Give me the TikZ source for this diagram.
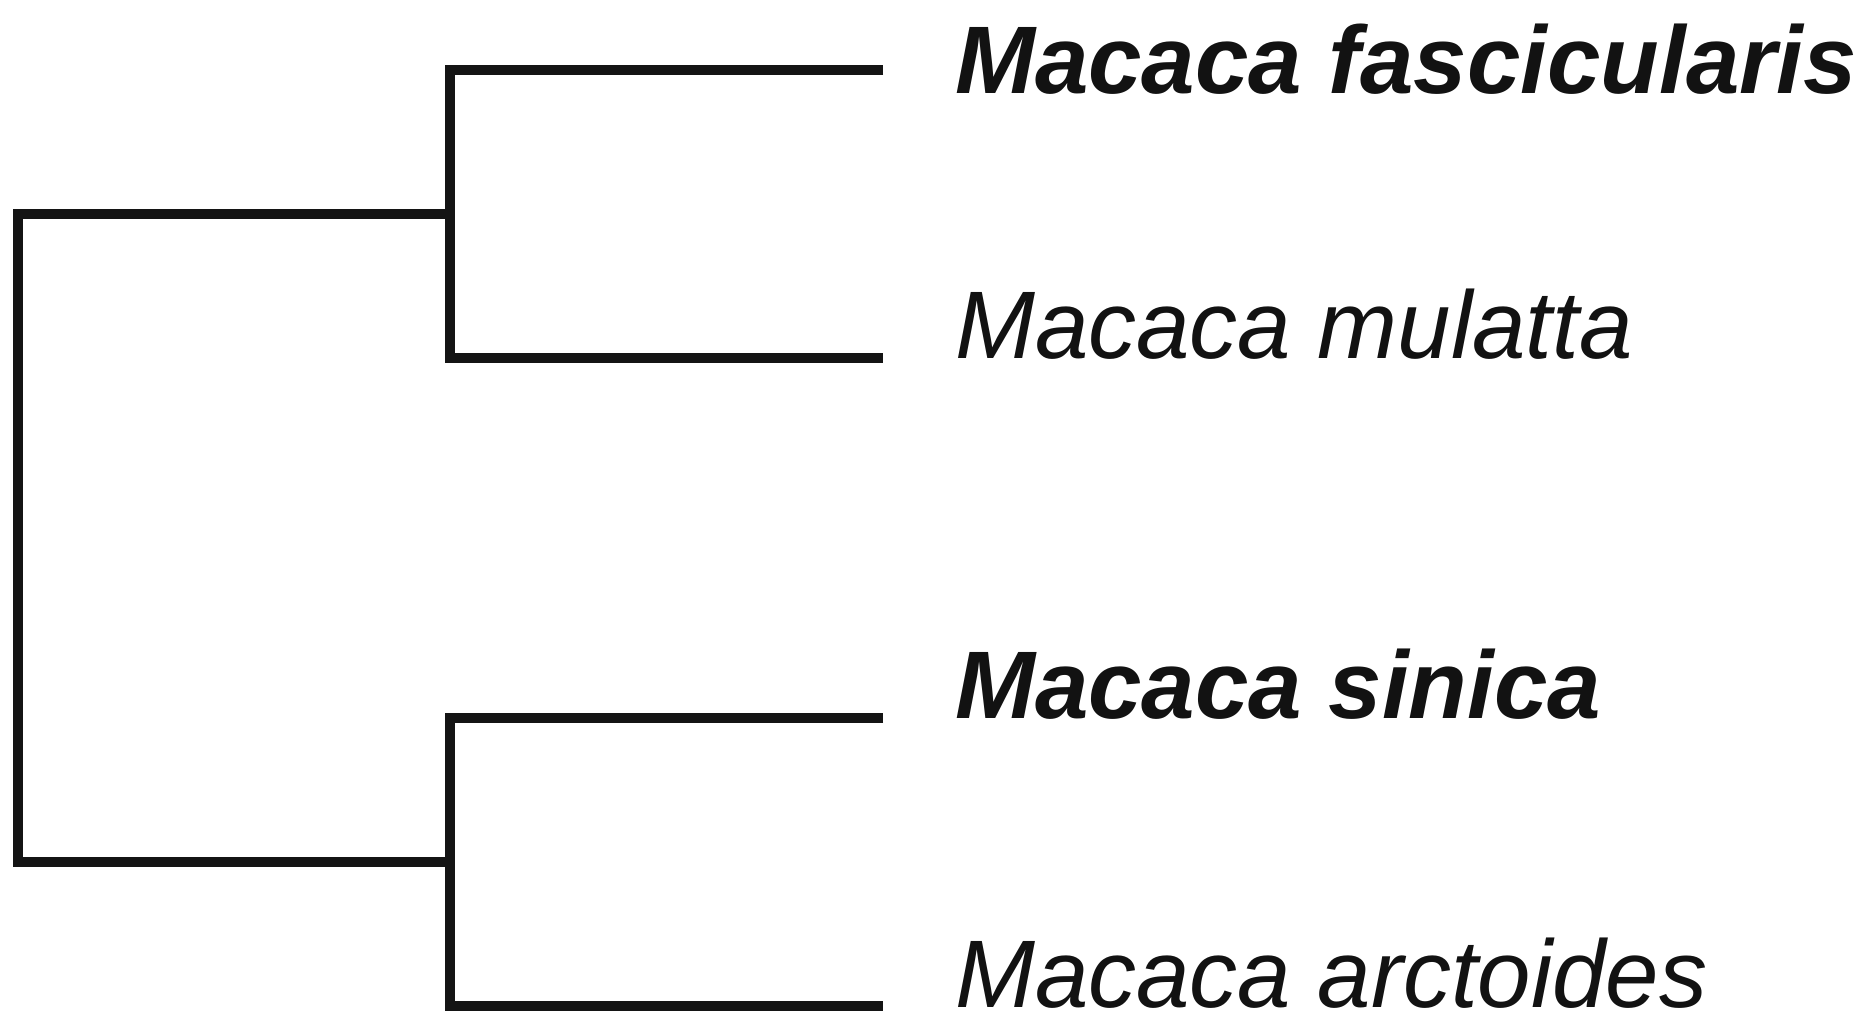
\documentclass[tikz,border=0pt]{standalone}
\usepackage{fontspec}
\setmainfont{Liberation Sans}
\begin{document}
\begin{tikzpicture}[x=1pt,y=-1pt,
    branch/.style={draw=black!92, line width=10pt, line join=miter, line cap=butt},
    taxon/.style={anchor=base west, inner sep=0pt, text=black!93,
                  font=\fontsize{96}{110}\selectfont\itshape},
    hilite/.style={taxon, font=\fontsize{96}{110}\selectfont\bfseries\itshape}]
\useasboundingbox (0,0) rectangle (1866,1011);

% internal nodes of the tree
\coordinate (root) at (18,538);
\coordinate (cladeA) at (450,214);
\coordinate (cladeB) at (450,862);

% leaf ends
\coordinate (tipFas) at (883,70);
\coordinate (tipMul) at (883,358);
\coordinate (tipSin) at (883,718);
\coordinate (tipArc) at (883,1006);

% species labels
\node[hilite] (fas) at (955,94) {Macaca fascicularis};
\node[taxon]  (mul) at (955,358) {Macaca mulatta};
\node[hilite] (sin) at (955,718) {Macaca sinica};
\node[taxon]  (arc) at (955,1007) {Macaca arctoides};

% branches
\draw[branch] (cladeA) -- (root |- cladeA) -- (root |- cladeB) -- (cladeB);
\draw[branch] (tipFas) -- (cladeA |- tipFas) -- (cladeA |- tipMul) -- (tipMul);
\draw[branch] (tipSin) -- (cladeB |- tipSin) -- (cladeB |- tipArc) -- (tipArc);
\end{tikzpicture}
\end{document}
